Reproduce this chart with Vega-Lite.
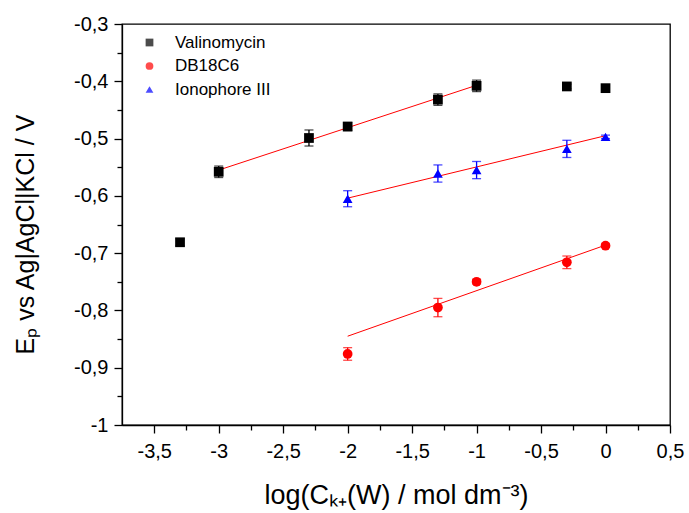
{
  "$schema": "https://vega.github.io/schema/vega-lite/v6.json",
  "width": 548,
  "height": 401,
  "autosize": {"type": "none"},
  "padding": {"left": 122, "top": 24, "right": 19, "bottom": 88},
  "background": "white",
  "config": {
    "font": "Liberation Sans",
    "view": {"stroke": "black", "strokeWidth": 1.3},
    "axis": {
      "grid": false,
      "ticks": true,
      "domainColor": "#000000",
      "domainWidth": 1.3,
      "tickColor": "#000000",
      "tickWidth": 1.3,
      "tickOpacity": 1,
      "labelColor": "#000000",
      "labelFont": "Liberation Sans",
      "labelFontSize": 20,
      "labelOverlap": false,
      "labelBound": false,
      "labelFlush": false,
      "titleColor": "#000000",
      "titleFont": "Liberation Sans",
      "titleFontSize": 25,
      "titleFontWeight": "normal"
    },
    "legend": {
      "orient": "none",
      "legendX": 19,
      "legendY": 10,
      "labelFont": "Liberation Sans",
      "labelFontSize": 17,
      "labelColor": "black",
      "symbolSize": 60,
      "symbolStrokeWidth": 0,
      "rowPadding": 5.5,
      "labelOffset": 17
    }
  },
  "datasets": {
    "pts": [
      {"series": "Valinomycin", "x": -3.3, "y": -0.681, "err": 0.006},
      {"series": "Valinomycin", "x": -3.0, "y": -0.558, "err": 0.010},
      {"series": "Valinomycin", "x": -2.3, "y": -0.499, "err": 0.014},
      {"series": "Valinomycin", "x": -2.0, "y": -0.479, "err": 0.007},
      {"series": "Valinomycin", "x": -1.3, "y": -0.432, "err": 0.010},
      {"series": "Valinomycin", "x": -1.0, "y": -0.408, "err": 0.010},
      {"series": "Valinomycin", "x": -0.3, "y": -0.409, "err": 0.004},
      {"series": "Valinomycin", "x": 0.0, "y": -0.412, "err": 0.004},
      {"series": "DB18C6", "x": -2.0, "y": -0.876, "err": 0.011},
      {"series": "DB18C6", "x": -1.3, "y": -0.795, "err": 0.016},
      {"series": "DB18C6", "x": -1.0, "y": -0.750, "err": 0.004},
      {"series": "DB18C6", "x": -0.3, "y": -0.716, "err": 0.011},
      {"series": "DB18C6", "x": 0.0, "y": -0.687, "err": 0.003},
      {"series": "Ionophore III", "x": -2.0, "y": -0.605, "err": 0.014},
      {"series": "Ionophore III", "x": -1.3, "y": -0.561, "err": 0.015},
      {"series": "Ionophore III", "x": -1.0, "y": -0.555, "err": 0.015},
      {"series": "Ionophore III", "x": -0.3, "y": -0.518, "err": 0.015},
      {"series": "Ionophore III", "x": 0.0, "y": -0.497, "err": 0.003}
    ],
    "fits": [
      {"series": "Valinomycin", "x": -3.0, "y": -0.555},
      {"series": "Valinomycin", "x": -1.0, "y": -0.407},
      {"series": "DB18C6", "x": -2.0, "y": -0.845},
      {"series": "DB18C6", "x": 0.0, "y": -0.686},
      {"series": "Ionophore III", "x": -2.0, "y": -0.604},
      {"series": "Ionophore III", "x": 0.0, "y": -0.495}
    ]
  },
  "resolve": {"axis": {"x": "independent", "y": "independent"}},
  "layer": [
    {
      "data": {"name": "fits"},
      "mark": {"type": "line", "color": "#ff0000", "strokeWidth": 1},
      "encoding": {
        "x": {
          "field": "x",
          "type": "quantitative",
          "scale": {"domain": [-3.75, 0.5], "nice": false, "zero": false},
          "axis": {
            "orient": "bottom",
            "values": [-3.5, -3, -2.5, -2, -1.5, -1, -0.5, 0, 0.5],
            "labelExpr": "replace(toString(datum.value), '.', ',')",
            "ticks": true,
            "tickSize": 8,
            "labelPadding": 8,
            "title": "log(Cₖ₊(W) / mol dm⁻³)",
            "titleFontSize": 27,
            "titleX": 274,
            "titleY": 78,
            "titleBaseline": "alphabetic",
            "titleAlign": "center"
          }
        },
        "y": {
          "field": "y",
          "type": "quantitative",
          "scale": {"domain": [-1, -0.3], "nice": false, "zero": false},
          "axis": {
            "orient": "left",
            "values": [-1, -0.9, -0.8, -0.7, -0.6, -0.5, -0.4, -0.3],
            "labelExpr": "replace(toString(datum.value), '.', ',')",
            "ticks": true,
            "tickSize": 8,
            "labelPadding": 6,
            "title": "Eₚ vs Ag|AgCl|KCl / V",
            "titleX": -89,
            "titleY": 210,
            "titleAngle": 270,
            "titleBaseline": "alphabetic",
            "titleAlign": "center"
          }
        },
        "detail": {"field": "series"}
      }
    },
    {
      "data": {"name": "pts"},
      "mark": {"type": "point", "opacity": 0},
      "encoding": {
        "x": {
          "field": "x",
          "type": "quantitative",
          "axis": {
            "orient": "bottom",
            "values": [-3.25, -2.75, -2.25, -1.75, -1.25, -0.75, -0.25, 0.25],
            "labels": false,
            "domain": false,
            "ticks": true,
            "tickSize": 5,
            "title": null
          }
        },
        "y": {
          "field": "y",
          "type": "quantitative",
          "axis": {
            "orient": "left",
            "values": [-0.95, -0.85, -0.75, -0.65, -0.55, -0.45, -0.35],
            "labels": false,
            "domain": false,
            "ticks": true,
            "tickSize": 5,
            "title": null
          }
        }
      }
    },
    {
      "data": {"name": "pts"},
      "mark": {"type": "errorbar", "ticks": true, "size": 9, "thickness": 1.3},
      "encoding": {
        "x": {"field": "x", "type": "quantitative", "axis": null},
        "y": {"field": "y", "type": "quantitative", "axis": null},
        "yError": {"field": "err"},
        "color": {
          "field": "series",
          "type": "nominal",
          "scale": {"domain": ["Valinomycin", "DB18C6", "Ionophore III"], "range": ["#000000", "#ff0000", "#0000ff"]},
          "title": null
        }
      }
    },
    {
      "data": {"name": "pts"},
      "mark": {"type": "point", "filled": true, "opacity": 1, "size": 95},
      "encoding": {
        "x": {"field": "x", "type": "quantitative", "axis": null},
        "y": {"field": "y", "type": "quantitative", "axis": null},
        "color": {
          "field": "series",
          "type": "nominal",
          "scale": {"domain": ["Valinomycin", "DB18C6", "Ionophore III"], "range": ["#000000", "#ff0000", "#0000ff"]},
          "title": null
        },
        "shape": {
          "field": "series",
          "type": "nominal",
          "scale": {"domain": ["Valinomycin", "DB18C6", "Ionophore III"], "range": ["square", "circle", "triangle-up"]},
          "title": null
        }
      }
    }
  ]
}
